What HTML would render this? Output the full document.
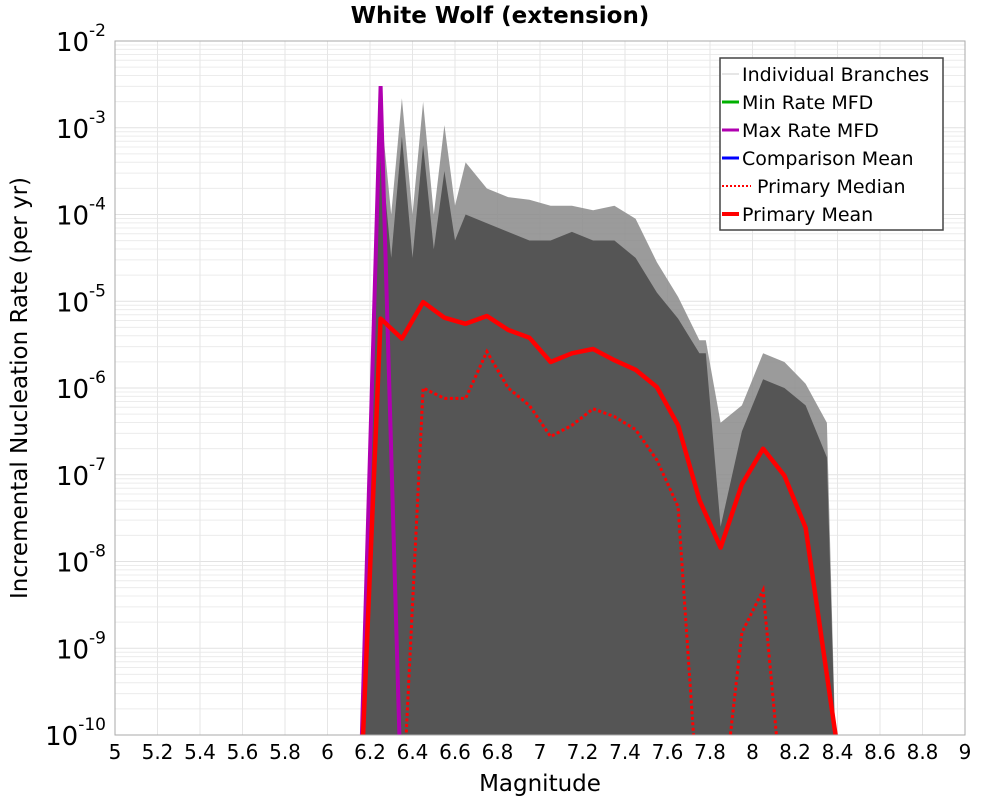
<!DOCTYPE html>
<html><head><meta charset="utf-8"><style>
body{margin:0;background:#fff;font-family:"DejaVu Sans","Liberation Sans",sans-serif}
svg{display:block}
</style></head><body>
<svg id="chart" width="1000" height="800" xmlns="http://www.w3.org/2000/svg" font-family="DejaVu Sans, Liberation Sans, sans-serif"></svg>
<script>
// data
const mags = [6.15,6.25,6.35,6.45,6.55,6.65,6.75,6.85,6.95,7.05,7.15,7.25,7.35,7.45,7.55,7.65,7.75,7.85,7.95,8.05,8.15,8.25,8.35,8.45];
const meanLog = [-11,-5.20,-5.43,-5.01,-5.19,-5.26,-5.17,-5.33,-5.42,-5.70,-5.60,-5.55,-5.68,-5.79,-5.99,-6.43,-7.29,-7.84,-7.11,-6.70,-7.01,-7.61,-9.31,-11];
const medianLog = [-11,-11,-11,-6.00,-6.12,-6.12,-5.58,-6.00,-6.20,-6.56,-6.43,-6.24,-6.33,-6.48,-6.83,-7.37,-11,-11,-8.82,-8.33,-11,-11,-11,-11];
const maxMags = [6.15,6.25,6.35];
const maxLog = [-11,-2.52,-11];
const envMags = [6.15,6.25,6.30,6.35,6.40,6.45,6.50,6.55,6.60,6.65,6.75,6.85,6.95,7.05,7.15,7.25,7.35,7.45,7.55,7.65,7.75,7.78,7.85,7.95,8.05,8.15,8.25,8.35,8.40];
const envLog = [-11,-2.75,-4.0,-2.66,-4.0,-2.70,-4.0,-2.97,-3.9,-3.4,-3.70,-3.80,-3.83,-3.90,-3.90,-3.95,-3.90,-4.05,-4.55,-4.95,-5.45,-5.45,-6.4,-6.2,-5.6,-5.7,-5.95,-6.4,-11];
const denseLog = [-11,-3.2,-4.5,-3.1,-4.5,-3.2,-4.4,-3.5,-4.3,-4.0,-4.1,-4.2,-4.3,-4.3,-4.2,-4.3,-4.3,-4.5,-4.9,-5.2,-5.6,-5.6,-7.6,-6.5,-5.9,-6.0,-6.2,-6.8,-11];
const xTicks = [5,5.2,5.4,5.6,5.8,6,6.2,6.4,6.6,6.8,7,7.2,7.4,7.6,7.8,8,8.2,8.4,8.6,8.8,9];
const xTickLabels = ["5","5.2","5.4","5.6","5.8","6","6.2","6.4","6.6","6.8","7","7.2","7.4","7.6","7.8","8","8.2","8.4","8.6","8.8","9"];
const yDecades = [-2,-3,-4,-5,-6,-7,-8,-9,-10];

const L=115,R=965,T=41,B=735;
const X=m=>L+(m-5)/(4)*(R-L);
const Y=lg=>T+(-2-lg)/8*(B-T);
const svg=document.getElementById('chart');
const NS='http://www.w3.org/2000/svg';
function mk(tag,attrs,parent){const e=document.createElementNS(NS,tag);for(const k in attrs)e.setAttribute(k,attrs[k]);(parent||svg).appendChild(e);return e;}

const defs=mk('defs',{});const cp=mk('clipPath',{id:'pc'},defs);mk('rect',{x:L,y:T,width:R-L,height:B-T},cp);

const grid=mk('g',{});


for(let d=-10;d<-2;d++){for(let k=1;k<10;k++){const y=Y(d+Math.log10(k));mk('line',{x1:L,x2:R,y1:y,y2:y,stroke:k==1?'#e2e2e2':'#ececec','stroke-width':1},grid);}}
xTicks.forEach(t=>{const x=X(t);mk('line',{x1:x,x2:x,y1:T,y2:B,stroke:'#e6e6e6','stroke-width':1},grid);});

const plot=mk('g',{'clip-path':'url(#pc)'});
function poly(ms,ls){return ms.map((m,i)=>X(m).toFixed(1)+','+Y(ls[i]).toFixed(1)).join(' ');}
const env=mk('polygon',{points:poly(envMags,envLog),fill:'#8a8a8a','fill-opacity':0.85},plot);


const dense=mk('polygon',{points:poly(envMags,denseLog),fill:'#555'},plot);


const mx=mk('polyline',{points:poly(maxMags,maxLog),fill:'none',stroke:'#b000b0','stroke-width':4},plot);


const md=mk('polyline',{points:poly(mags,medianLog),fill:'none',stroke:'#f00','stroke-width':3,'stroke-dasharray':'3,2.5'},plot);


const mn=mk('polyline',{points:poly(mags,meanLog),fill:'none',stroke:'#f00','stroke-width':4.5,'stroke-linejoin':'round'},plot);



mk('rect',{x:L,y:T,width:R-L,height:B-T,fill:'none',stroke:'#aaa','stroke-width':1});

xTicks.forEach((t,i)=>{const tx=mk('text',{x:X(t),y:759,'font-size':20,'text-anchor':'middle',fill:'#000'});tx.textContent=xTickLabels[i];

});
yDecades.forEach(d=>{const y=Y(d);const tx=mk('text',{x:106,y:y+10,'font-size':26,'text-anchor':'end',fill:'#000'});


const a=mk('tspan',{},tx);a.textContent='10';const b=mk('tspan',{dy:-15,'font-size':17},tx);b.textContent=String(d);});

const title=mk('text',{x:500,y:23,'font-size':23,'font-weight':'bold','text-anchor':'middle'});title.textContent='White Wolf (extension)';


const xt=mk('text',{x:540,y:791,'font-size':23,'text-anchor':'middle'});xt.textContent='Magnitude';


const yt=mk('text',{x:0,y:0,'font-size':23,'text-anchor':'middle',transform:'translate(27,388) rotate(-90)'});yt.textContent='Incremental Nucleation Rate (per yr)';



const lg=mk('g',{});


mk('rect',{x:720,y:58,width:223,height:172,fill:'#fff',stroke:'#444','stroke-width':1.5},lg);
const entries=[['Individual Branches','#ccc',1,null,742],['Min Rate MFD','#00b000',3,null,742],['Max Rate MFD','#b000b0',3,null,742],['Comparison Mean','#0000ff',3,null,742],['Primary Median','#f00',2,'2,2',757],['Primary Mean','#f00',4,null,742]];
entries.forEach((e,i)=>{const y=74+i*28;const g=mk('g',{},lg);


const ln=mk('line',{x1:722,x2:e[4]==757?751:739,y1:y,y2:y,stroke:e[1],'stroke-width':e[2]},g);if(e[3])ln.setAttribute('stroke-dasharray',e[3]);
const t=mk('text',{x:e[4],y:y+7,'font-size':19},g);t.textContent=e[0];});
</script>
</body></html>
